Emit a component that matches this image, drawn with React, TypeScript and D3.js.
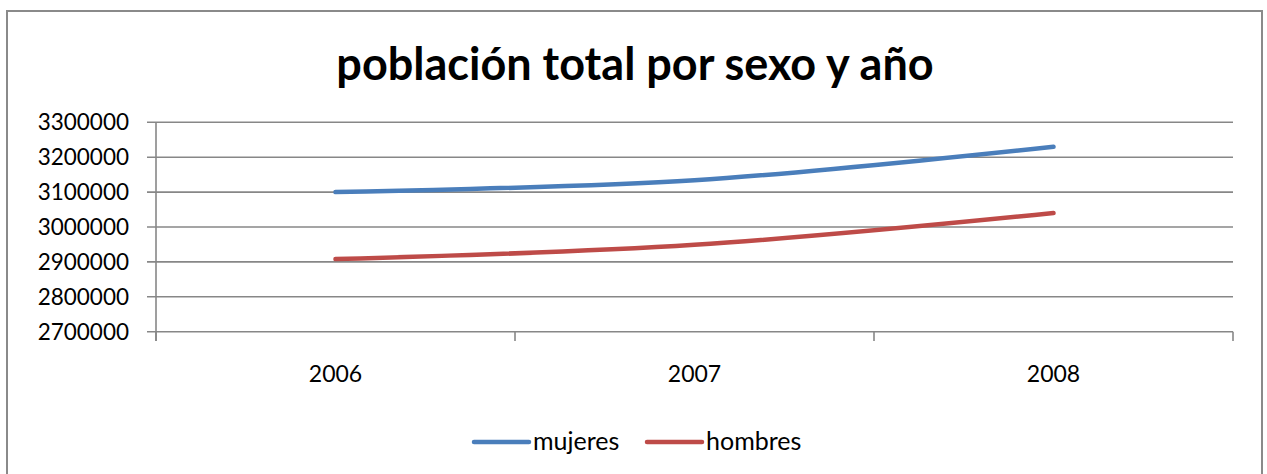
import React from "react";
import * as d3 from "d3";

const years = ["2006", "2007", "2008"];
const mujeres = [3100000, 3134000, 3230000];
const hombres = [2908000, 2949000, 3040000];
const yTicks = [2700000, 2800000, 2900000, 3000000, 3100000, 3200000, 3300000];

const series = [
  { name: "mujeres", values: mujeres, color: "#4a7ebb" },
  { name: "hombres", values: hombres, color: "#be4b48" },
];

const W = 1267;
const H = 474;
const FONT = "Lato, 'Open Sans', sans-serif";

export default function App() {
  const x = d3.scaleBand().domain(years).range([156, 1233]);
  const y = d3.scaleLinear().domain([2700000, 3300000]).range([331.7, 122.3]);
  const line = d3
    .line<number>()
    .x((_, i) => (x(years[i]) as number) + x.bandwidth() / 2)
    .y((d) => y(d))
    .curve(d3.curveCatmullRom.alpha(0.5));

  const catTicks = [...years.map((c) => x(c) as number), x.range()[1]];
  const grid = "#878787";

  return (
    <svg
      width={W}
      height={H}
      style={{ position: "fixed", left: 0, top: 0, background: "#fff" }}
      fontFamily={FONT}
    >
      <rect x={7} y={11} width={1255} height={480} fill="#fff" stroke="#8a8a8a" strokeWidth={2} />
      <text x={635} y={80} textAnchor="middle" fontSize={45} fontWeight="bold" fill="#000">
        población total por sexo y año
      </text>

      {yTicks.map((t) => (
        <g key={t}>
          <line x1={147} x2={1233} y1={y(t)} y2={y(t)} stroke={grid} strokeWidth={1.6} />
          <text x={129} y={y(t) + 8} textAnchor="end" fontSize={22.5} fill="#000">
            {t}
          </text>
        </g>
      ))}
      <line x1={156} x2={156} y1={y(3300000)} y2={341} stroke={grid} strokeWidth={1.6} />
      {catTicks.map((c, i) => (
        <line key={i} x1={c} x2={c} y1={y(2700000)} y2={341} stroke={grid} strokeWidth={1.6} />
      ))}
      {years.map((c) => (
        <text
          key={c}
          x={(x(c) as number) + x.bandwidth() / 2}
          y={382}
          textAnchor="middle"
          fontSize={23}
          fill="#000"
        >
          {c}
        </text>
      ))}

      {series.map((s) => (
        <path
          key={s.name}
          d={line(s.values) || ""}
          fill="none"
          stroke={s.color}
          strokeWidth={4.5}
          strokeLinecap="round"
        />
      ))}

      {series.map((s, i) => {
        const lx = 474 + i * 173;
        return (
          <g key={s.name}>
            <line x1={lx} x2={lx + 55} y1={442} y2={442} stroke={s.color} strokeWidth={4.5} strokeLinecap="round" />
            <text x={lx + 59} y={450} fontSize={25} fill="#000">
              {s.name}
            </text>
          </g>
        );
      })}
    </svg>
  );
}
